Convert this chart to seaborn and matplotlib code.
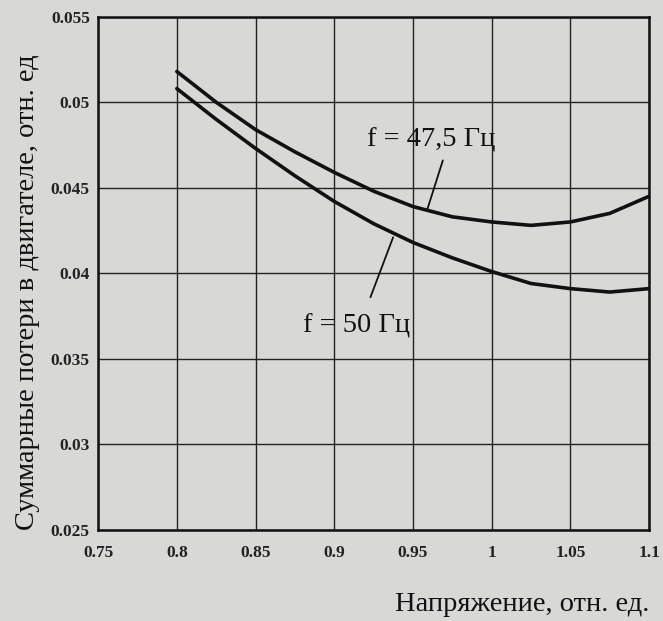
import numpy as np
import pandas as pd
import matplotlib
matplotlib.use("Agg")
import matplotlib.pyplot as plt
import seaborn as sns

voltage = [0.8, 0.825, 0.85, 0.875, 0.9, 0.925, 0.95, 0.975, 1.0, 1.025, 1.05, 1.075, 1.1]
loss_47_5 = [0.0518, 0.0500, 0.0484, 0.0471, 0.0459, 0.0448, 0.0439, 0.0433, 0.0430, 0.0428, 0.0430, 0.0435, 0.0445]
loss_50 = [0.0508, 0.0490, 0.0473, 0.0457, 0.0442, 0.0429, 0.0418, 0.0409, 0.0401, 0.0394, 0.0391, 0.0389, 0.0391]
x_ticks = [0.75, 0.8, 0.85, 0.9, 0.95, 1.0, 1.05, 1.1]
x_tick_labels = ["0.75", "0.8", "0.85", "0.9", "0.95", "1", "1.05", "1.1"]
y_ticks = [0.025, 0.03, 0.035, 0.04, 0.045, 0.05, 0.055]
y_tick_labels = ["0.025", "0.03", "0.035", "0.04", "0.045", "0.05", "0.055"]

df = pd.DataFrame({
    "U": voltage * 2,
    "P": loss_47_5 + loss_50,
    "f": ["47.5"] * len(voltage) + ["50"] * len(voltage),
})

sns.set_style("white")
plt.rcParams["font.family"] = ["Liberation Serif", "DejaVu Serif"]

bg = "#d8d8d6"
fig = plt.figure(figsize=(6.63, 6.21), dpi=100, facecolor=bg)
ax = fig.add_axes([0.148, 0.147, 0.831, 0.826])
ax.set_facecolor(bg)

sns.lineplot(data=df, x="U", y="P", hue="f", palette=["#111111", "#111111"],
             linewidth=2.6, legend=False, ax=ax)

ax.set_xlim(0.75, 1.1)
ax.set_ylim(0.025, 0.055)
ax.set_xticks(x_ticks)
ax.set_xticklabels(x_tick_labels, fontsize=12.5, fontweight="bold")
ax.set_yticks(y_ticks)
ax.set_yticklabels(y_tick_labels, fontsize=12.5, fontweight="bold")
ax.tick_params(axis="both", length=0, colors="#222222")
ax.tick_params(axis="x", pad=11)
ax.tick_params(axis="y", pad=6)
ax.grid(True, color="#222222", linewidth=1.0)
for s in ax.spines.values():
    s.set_color("#111111")
    s.set_linewidth(1.8)

ax.set_xlabel("Напряжение, отн. ед.", fontsize=20.5, loc="right", labelpad=22, color="#111111")
ax.set_ylabel("Суммарные потери в двигателе, отн. ед", fontsize=20.5, loc="bottom", labelpad=8, color="#111111")

ax.text(0.9616, 0.0478, "f = 47,5 Гц", fontsize=20.5, ha="center", va="center", color="#111111")
ax.plot([0.969, 0.959], [0.0466, 0.0437], color="#111111", linewidth=1.3)
ax.text(0.914, 0.0369, "f = 50 Гц", fontsize=20.5, ha="center", va="center", color="#111111")
ax.plot([0.923, 0.9374], [0.0386, 0.0421], color="#111111", linewidth=1.3)

fig.savefig("out.png", dpi=100, facecolor=bg)
